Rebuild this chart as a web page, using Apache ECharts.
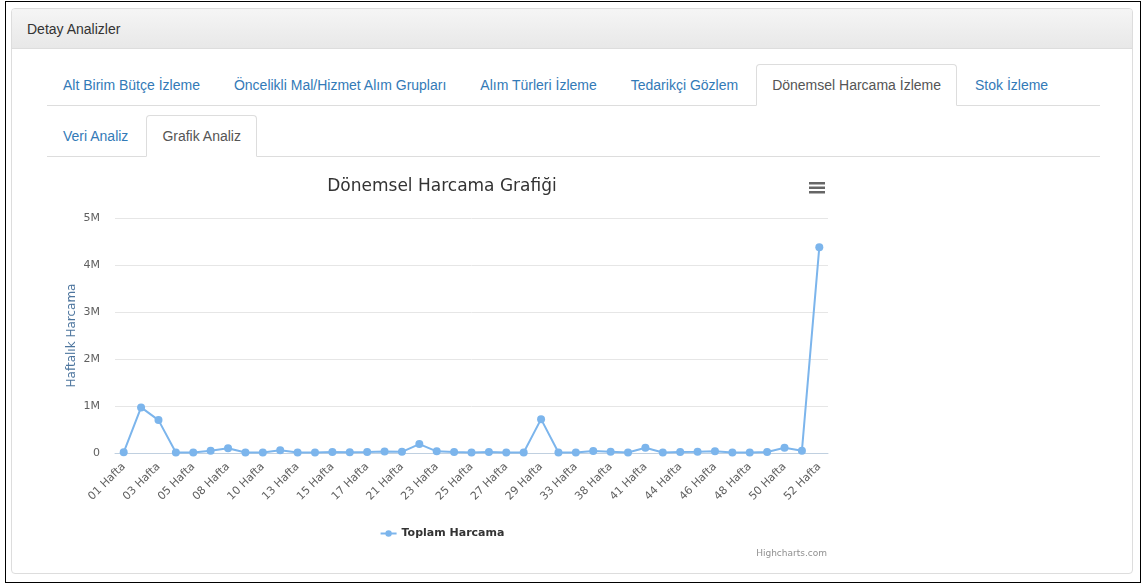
<!DOCTYPE html>
<html>
<head>
<meta charset="utf-8">
<script src="https://cdn.jsdelivr.net/npm/echarts@6/dist/echarts.min.js"></script>
<style>
  html, body { margin: 0; padding: 0; background: #fff; }
  body { width: 1141px; height: 585px; position: relative; overflow: hidden;
         font-family: "Liberation Sans", Arial, Helvetica, sans-serif; font-size: 14px; color: #333; }
  #frame { position: absolute; left: 5px; top: 1px; width: 1134px; height: 580px; border: 1px solid #000; box-sizing: content-box; }
  #panel { position: absolute; left: 11px; top: 8px; width: 1122px; height: 566px; border: 1px solid #ddd; border-radius: 4px; box-sizing: border-box; background: #fff; }
  #heading { position: absolute; left: 0; top: 0; right: 0; height: 40px; padding: 10px 15px; box-sizing: border-box;
             background: linear-gradient(to bottom, #f5f5f5 0%, #e8e8e8 100%); border-bottom: 1px solid #ddd;
             border-radius: 3px 3px 0 0; line-height: 20px; font-size: 14px; color: #333; }
  ul.tabs { position: absolute; left: 47px; width: 1053px; margin: 0; padding: 0; list-style: none;
            border-bottom: 1px solid #ddd; height: 41px; }
  ul.tabs li { float: left; margin-bottom: -1px; }
  ul.tabs li a { display: block; padding: 10px 15px; line-height: 20px; margin-right: 2px; border: 1px solid transparent;
                 border-radius: 4px 4px 0 0; color: #337ab7; text-decoration: none; white-space: nowrap; }
  ul.tabs li.active a { color: #555; background: #fff; border: 1px solid #ddd; border-bottom-color: transparent; }
  #chart { position: absolute; left: 47px; top: 160px; width: 790px; height: 405px; }
</style>
</head>
<body>
<div id="frame"></div>
<div id="panel"><div id="heading">Detay Analizler</div></div>
<ul class="tabs" style="top:64px;">
  <li><a>Alt Birim Bütçe İzleme</a></li>
  <li><a>Öncelikli Mal/Hizmet Alım Grupları</a></li>
  <li><a>Alım Türleri İzleme</a></li>
  <li><a>Tedarikçi Gözlem</a></li>
  <li class="active"><a>Dönemsel Harcama İzleme</a></li>
  <li><a>Stok İzleme</a></li>
</ul>
<ul class="tabs" style="top:115px;">
  <li><a>Veri Analiz</a></li>
  <li class="active"><a>Grafik Analiz</a></li>
</ul>
<div id="chart"></div>
<script>
const titleText = 'Dönemsel Harcama Grafiği';
const seriesName = 'Toplam Harcama';
const yAxisName = 'Haftalık Harcama';
const creditText = 'Highcharts.com';
const categories = ['01 Hafta','02 Hafta','03 Hafta','04 Hafta','05 Hafta','06 Hafta','08 Hafta','09 Hafta','10 Hafta','11 Hafta',
  '13 Hafta','14 Hafta','15 Hafta','16 Hafta','17 Hafta','19 Hafta','21 Hafta','22 Hafta','23 Hafta','24 Hafta',
  '25 Hafta','26 Hafta','27 Hafta','28 Hafta','29 Hafta','31 Hafta','33 Hafta','35 Hafta','38 Hafta','39 Hafta',
  '41 Hafta','42 Hafta','44 Hafta','45 Hafta','46 Hafta','47 Hafta','48 Hafta','49 Hafta','50 Hafta','51 Hafta','52 Hafta'];
const values = [15000, 970000, 700000, 10000, 10000, 50000, 100000, 10000, 10000, 60000,
  10000, 10000, 20000, 15000, 20000, 30000, 25000, 190000, 35000, 20000,
  10000, 20000, 10000, 10000, 720000, 10000, 10000, 40000, 25000, 10000,
  110000, 10000, 20000, 25000, 35000, 10000, 10000, 20000, 110000, 50000, 4380000];
const yTicks = [0, 1000000, 2000000, 3000000, 4000000, 5000000];

const chart = echarts.init(document.getElementById('chart'), null, { renderer: 'canvas' });
const hcFont = '"DejaVu Sans", "Lucida Grande", Arial, sans-serif';
chart.setOption({
  animation: false,
  textStyle: { fontFamily: hcFont },
  title: [
    { text: titleText, left: 'center', top: 13, textStyle: { fontFamily: hcFont, fontSize: 17, fontWeight: 'normal', color: '#333333' } },
    { text: creditText, right: 5, bottom: 2, textStyle: { fontFamily: hcFont, fontSize: 9, fontWeight: 'normal', color: '#909090' } }
  ],
  graphic: [
    { type: 'rect', right: 12, top: 22, shape: { width: 16, height: 2.5 }, style: { fill: '#666' } },
    { type: 'rect', right: 12, top: 26.5, shape: { width: 16, height: 2.5 }, style: { fill: '#666' } },
    { type: 'rect', right: 12, top: 31, shape: { width: 16, height: 2.5 }, style: { fill: '#666' } }
  ],
  legend: {
    data: [seriesName], bottom: 21, left: 'center',
    itemWidth: 16, itemHeight: 8, itemGap: 6,
    textStyle: { fontFamily: hcFont, fontSize: 11, fontWeight: 'bold', color: '#333333' }
  },
  grid: { left: 68, right: 9, top: 58, bottom: 112, containLabel: false },
  xAxis: {
    type: 'category', data: categories, boundaryGap: true,
    axisLine: { lineStyle: { color: '#C0D0E0', width: 1 } },
    axisTick: { alignWithLabel: true, interval: 1, length: 10, lineStyle: { color: '#C0D0E0' } },
    axisLabel: { interval: 1, rotate: 45, margin: 12, fontSize: 11, color: '#606060', fontFamily: hcFont },
    splitLine: { show: false }
  },
  yAxis: {
    type: 'value', min: yTicks[0], max: yTicks[yTicks.length - 1], interval: yTicks[1] - yTicks[0],
    name: yAxisName, nameLocation: 'middle', nameGap: 37, nameRotate: 90, nameMoveOverlap: false,
    nameTextStyle: { fontFamily: hcFont, fontSize: 12, color: '#4d759e' },
    axisLine: { show: false }, axisTick: { show: false },
    axisLabel: { margin: 15, fontSize: 11, color: '#606060', fontFamily: hcFont,
                 formatter: v => v === 0 ? '0' : (v / 1000000) + 'M' },
    splitLine: { lineStyle: { color: '#e6e6e6', width: 1 } }
  },
  series: [{
    name: seriesName, type: 'line', data: values,
    symbol: 'circle', symbolSize: 8, showSymbol: true,
    lineStyle: { color: '#7cb5ec', width: 2 },
    itemStyle: { color: '#7cb5ec' }
  }]
});
</script>
</body>
</html>
